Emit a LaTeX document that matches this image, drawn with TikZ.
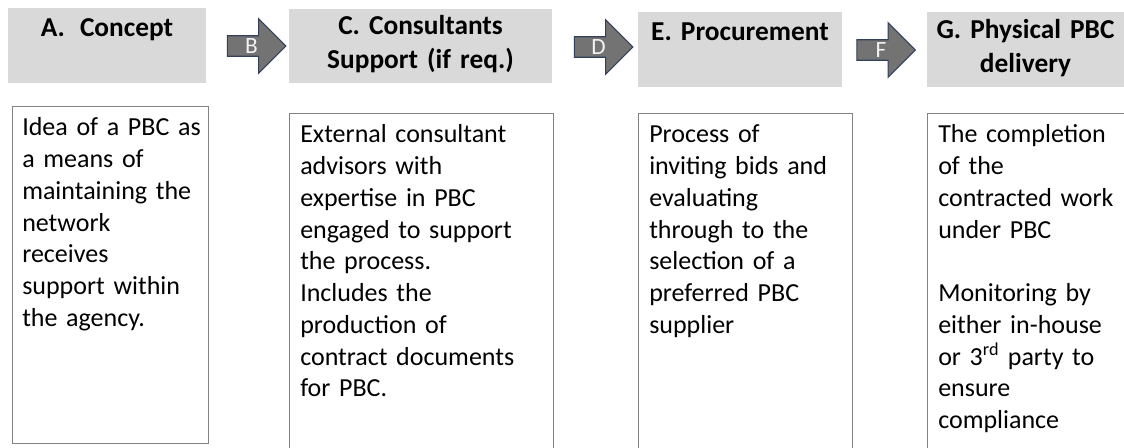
\documentclass[tikz,border=0pt]{standalone}
\usepackage{fontspec}
\setmainfont{Carlito}
\usetikzlibrary{shapes.arrows}

\definecolor{headgray}{RGB}{217,217,217}
\definecolor{boxline}{RGB}{130,130,130}
\definecolor{arrowfill}{RGB}{115,115,115}
\definecolor{arrowline}{RGB}{50,64,92}

\tikzset{
    head/.style={fill=headgray, anchor=north west, inner sep=0pt},
    headtext/.style={font=\bfseries\fontsize{20.5}{25}\selectfont, align=center, text width=#1, inner sep=0pt, anchor=base},
    box/.style={draw=boxline, line width=0.8pt, anchor=north west, inner sep=0pt},
    boxtext/.style={font=\fontsize{19.5}{23.8}\selectfont, align=left, text width=#1, inner sep=0pt, anchor=base west},
    stage/.style={single arrow, draw=arrowline, fill=arrowfill, line width=0.8pt, inner sep=0pt,
        minimum height=44pt, minimum width=41pt, single arrow head extend=10pt,
        text=white!95!black, font=\fontsize{17.5}{20}\selectfont}
}

\begin{document}
\begin{tikzpicture}[x=0.75pt, y=-0.75pt]
    \useasboundingbox (0,0) rectangle (1124,448);
    \fill[white] (0,0) rectangle (1124,448);
    \clip (0,0) rectangle (1124,448);

    % header bars
    \node[head, minimum width=148.5pt, minimum height=56.25pt] (aHead) at (8,8) {};
    \node[head, minimum width=197.25pt, minimum height=55.5pt] (cHead) at (289,9) {};
    \node[head, minimum width=153pt, minimum height=56.25pt] (eHead) at (638,12) {};
    \node[head, minimum width=147.75pt, minimum height=56.25pt] (gHead) at (927,12) {};
    \node[headtext=140pt] (aTitle) at (107,37) {A.\hspace{0.55em}Concept};
    \node[headtext=190pt] (cTitle) at (420.5,35) {C. Consultants\\ Support (if req.)};
    \node[headtext=150pt] (eTitle) at (740,41) {E. Procurement};
    \node[headtext=147pt] (gTitle) at (1025.5,39) {G. Physical PBC\\ delivery};

    % arrows between stages
    \node[stage] (bArrow) at (251.5,46) {B};
    \node[stage] (dArrow) at (598.5,47) {D};
    \node[stage] (fArrow) at (881,50) {F};

    % description boxes
    \node[box, minimum width=147pt, minimum height=252.75pt] (aBox) at (12,106) {};
    \node[box, minimum width=198pt, minimum height=255pt] (cBox) at (289,113) {};
    \node[box, minimum width=160.5pt, minimum height=255pt] (eBox) at (638,113) {};
    \node[box, minimum width=157.5pt, minimum height=255pt] (gBox) at (927,113) {};

    \node[boxtext=140pt] (aText) at (22,136) {Idea of a PBC as\\ a means of\\ maintaining the\\ network\\ receives\\ support within\\ the agency.};
    \node[boxtext=185pt] (cText) at (300,143) {External consultant\\ advisors with\\ expertise in PBC\\ engaged to support\\ the process.\\ Includes the\\ production of\\ contract documents\\ for PBC.};
    \node[boxtext=150pt] (eText) at (649,143) {Process of\\ inviting bids and\\ evaluating\\ through to the\\ selection of a\\ preferred PBC\\ supplier};
    \node[boxtext=150pt] (gText) at (938,143) {The completion\\ of the\\ contracted work\\ under PBC\\[23.8pt] Monitoring by\\ either in-house\\ or 3\textsuperscript{rd} party to\\ ensure\\ compliance};
\end{tikzpicture}
\end{document}
